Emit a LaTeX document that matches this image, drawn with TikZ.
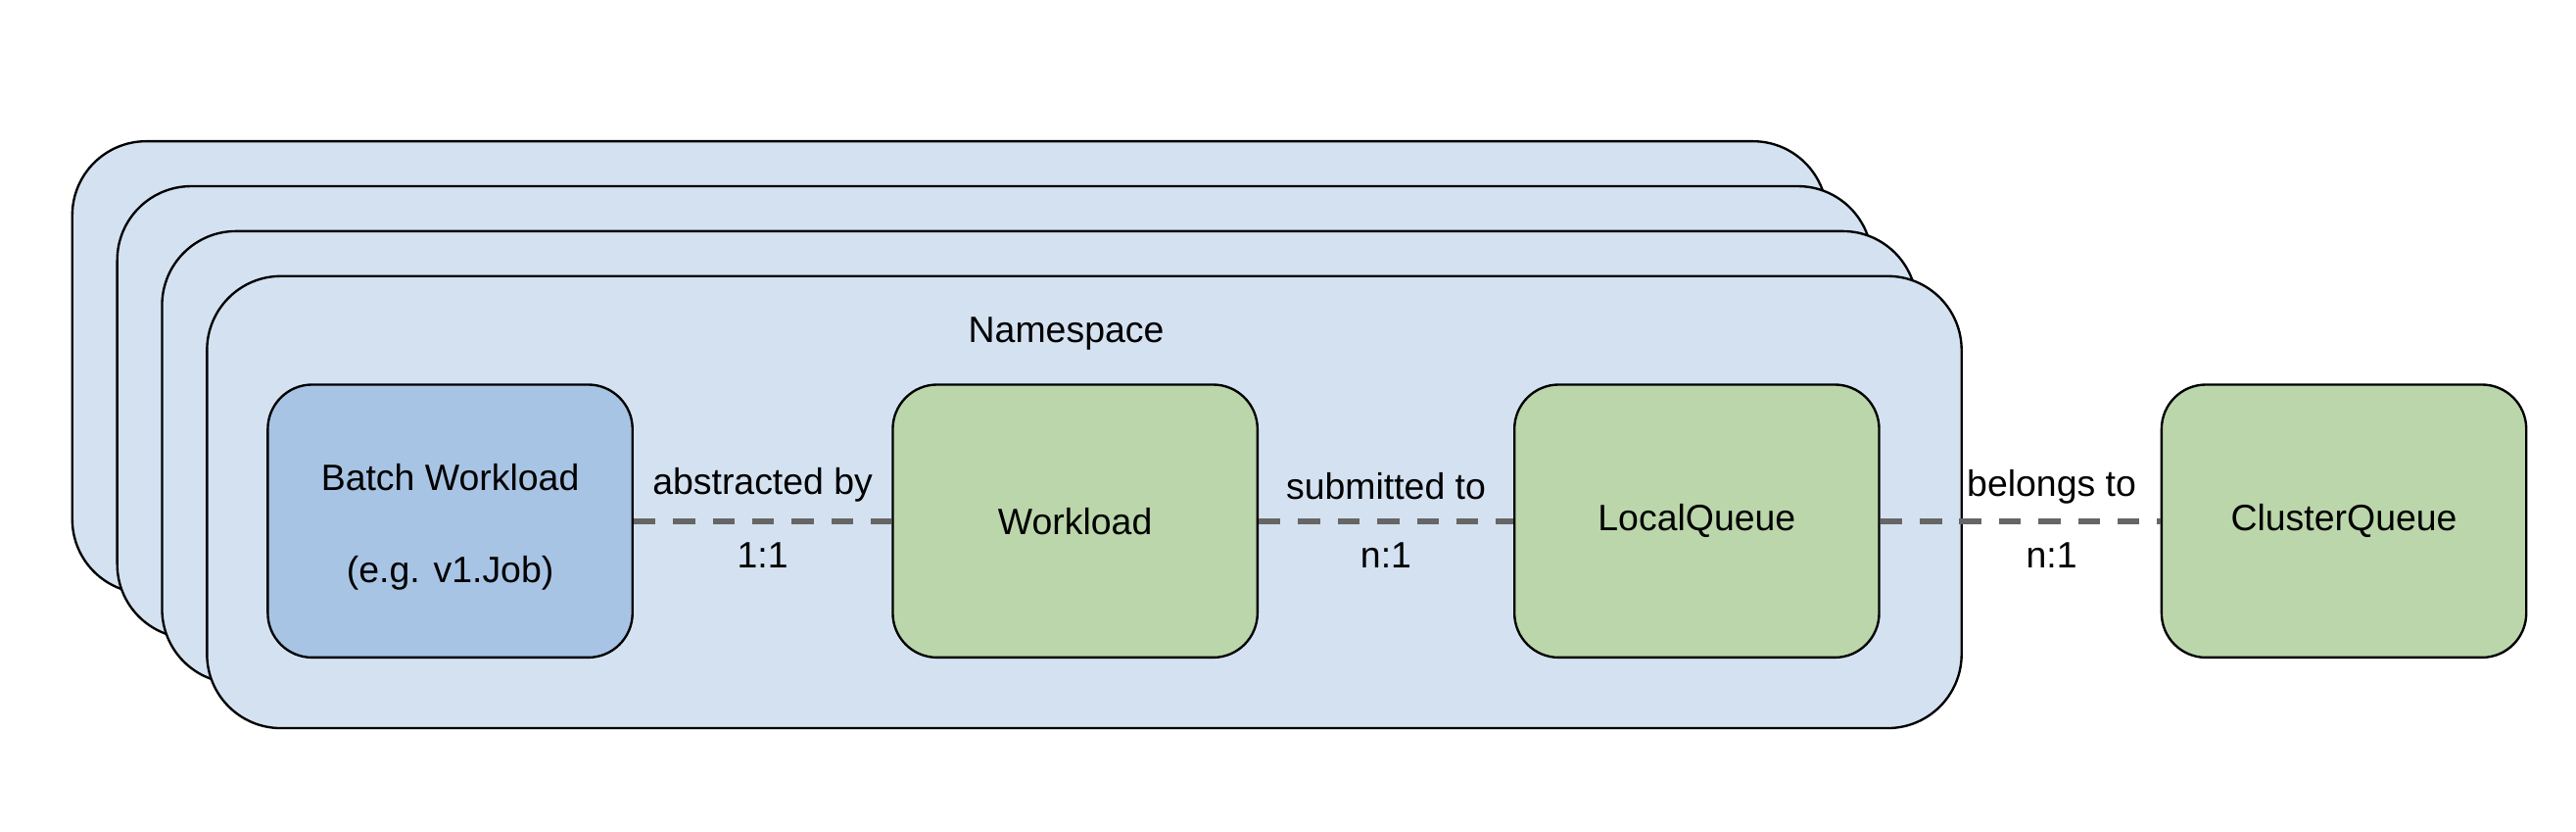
\documentclass[tikz,border=0pt]{standalone}
\usepackage{fontspec}
\setmainfont{Liberation Sans}
\usetikzlibrary{positioning}
\definecolor{nsblue}{RGB}{212,225,241}
\definecolor{jobblue}{RGB}{168,196,228}
\definecolor{wlgreen}{RGB}{187,214,170}
\definecolor{linkgray}{RGB}{102,102,102}
\tikzset{
    every node/.style={font=\fontsize{12.7}{15}\selectfont},
    nsbox/.style={draw=black, fill=nsblue, line width=0.8pt, rounded corners=0.9cm, minimum width=21.36cm, minimum height=5.5cm},
    objbox/.style={draw=black, line width=0.8pt, rounded corners=0.54cm, minimum width=4.44cm, minimum height=3.32cm, align=center},
    link/.style={draw=linkgray, line width=2pt, dash pattern=on 7.6pt off 6.1pt},
}

\begin{document}
\begin{tikzpicture}
   \useasboundingbox (0,0) rectangle (31.36,10.112);
% stack of namespaces, drawn from the back one to the front one
   \node[nsbox] (ns3) at (11.56,5.643) {};
   \node[nsbox] (ns2) at (12.107,5.096) {};
   \node[nsbox] (ns1) at (12.653,4.549) {};
   \node[nsbox] (ns) at (13.2,4.002) {};
   \node (nstitle) at (12.98,6.05) {Namespace};
% objects in a row, evenly spaced out
   \node[objbox, fill=jobblue] (job) at (5.48,3.772) {\\[-0.06cm]Batch Workload\\[0.6cm](e.g. v1.Job)};
   \node[objbox, fill=wlgreen, right=3.14cm of job] (wl) {Workload};
   \node[objbox, fill=wlgreen, right=3.1cm of wl] (lq) {LocalQueue};
   \node[objbox, fill=wlgreen, right=3.41cm of lq] (cq) {ClusterQueue};
% relations with the name above and the cardinality below
   \draw[link] (job) -- node[yshift=0.44cm] (abs) {abstracted by} node[yshift=-0.42cm] (card1) {1:1} (wl);
   \draw[link] (wl) -- node[yshift=0.42cm] (sub) {submitted to} node[yshift=-0.42cm] (card2) {n:1} (lq);
   \draw[link] (lq) -- node[xshift=0.38cm, yshift=0.42cm] (bel) {belongs to} node[xshift=0.38cm, yshift=-0.42cm] (card3) {n:1} (cq);
\end{tikzpicture}
\end{document}
